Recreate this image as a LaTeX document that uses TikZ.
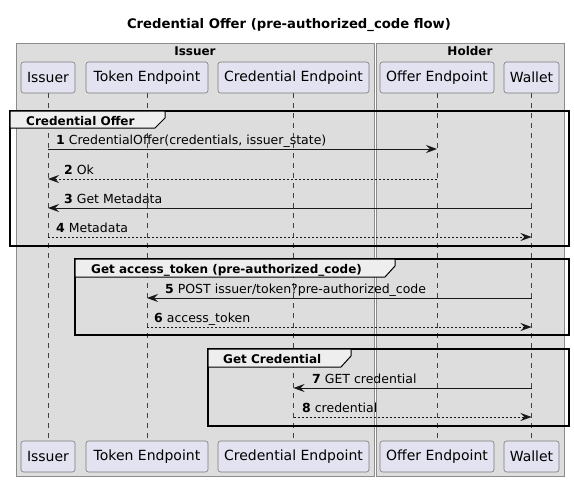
\documentclass[tikz,border=0pt]{standalone}
\usepackage{fontspec}
\setmainfont{DejaVu Sans}
\usetikzlibrary{arrows.meta}
\definecolor{boxgray}{HTML}{DDDDDD}
\definecolor{boxborder}{HTML}{8C8C8C}
\definecolor{partfill}{HTML}{E2E2F0}
\definecolor{partborder}{HTML}{7A7A7A}
\definecolor{tabfill}{HTML}{EEEEEE}
\begin{document}
\begin{tikzpicture}[x=1pt,y=-1pt,
  part/.style={draw=partborder, line width=0.6pt, fill=partfill, rounded corners=2.5pt,
    minimum height=31pt, inner sep=0pt, font=\fontsize{14}{16}\selectfont},
  lifeline/.style={draw=black!75, line width=0.5pt, dash pattern=on 5pt off 5pt},
  msg/.style={draw=black!90, line width=0.8pt, -{Stealth[length=11pt,width=8pt,inset=4pt]}},
  reply/.style={msg, dash pattern=on 2pt off 2pt},
  mlabel/.style={anchor=base west, inner sep=0pt, font=\fontsize{12.5}{15}\selectfont},
  glabel/.style={anchor=base west, inner sep=0pt, font=\fontsize{12}{14}\selectfont\bfseries},
  grp/.style={draw=black, line width=1.5pt},
  tab/.style={draw=black, line width=1pt, fill=tabfill},
  hbox/.style={draw=boxborder, line width=0.8pt, fill=boxgray},
  hlabel/.style={anchor=base, inner sep=0pt, font=\fontsize{12}{14}\selectfont\bfseries}
]
\useasboundingbox (0,0) rectangle (574,482);
\fill[white] (0,0) rectangle (574,482);

% title
\node[anchor=base, inner sep=0pt, font=\fontsize{13.2}{16}\selectfont\bfseries] (title) at (289,28)
  {Credential Offer (pre-authorized\_code flow)};

% boxes
\draw[hbox] (16,43) rectangle (374,476);
\draw[hbox] (376,43) rectangle (564,476);
\node[hlabel] (hiss) at (195,55) {Issuer};
\node[hlabel] (hhol) at (470,55) {Holder};

% participants top
\node[part, minimum width=54pt]  (iss1) at (48,77.5) {Issuer};
\node[part, minimum width=122pt] (tok1) at (147,77.5) {Token Endpoint};
\node[part, minimum width=151pt] (cre1) at (293.5,77.5) {Credential Endpoint};
\node[part, minimum width=114pt] (off1) at (437,77.5) {Offer Endpoint};
\node[part, minimum width=55pt]  (wal1) at (531.5,77.5) {Wallet};
% participants bottom
\node[part, minimum width=54pt]  (iss2) at (48,456.5) {Issuer};
\node[part, minimum width=122pt] (tok2) at (147,456.5) {Token Endpoint};
\node[part, minimum width=151pt] (cre2) at (293.5,456.5) {Credential Endpoint};
\node[part, minimum width=114pt] (off2) at (437,456.5) {Offer Endpoint};
\node[part, minimum width=55pt]  (wal2) at (531.5,456.5) {Wallet};

% lifelines
\draw[lifeline] (iss1.south) -- (iss2.north);
\draw[lifeline] (tok1.south) -- (tok2.north);
\draw[lifeline] (cre1.south) -- (cre2.north);
\draw[lifeline] (off1.south) -- (off2.north);
\draw[lifeline] (wal1.south) -- (wal2.north);

% group 1
\draw[grp] (10,111) rectangle (569,246);
\draw[tab] (10,111) -- (165,111) -- (165,118) -- (155,128) -- (10,128) -- cycle;
\node[glabel] (g1) at (26,125) {Credential Offer};

% group 2
\draw[grp] (75,259) rectangle (569,335);
\draw[tab] (75,259) -- (395,259) -- (395,266) -- (385,277) -- (75,277) -- cycle;
\node[glabel] (g2) at (91,273) {Get access\_token (pre-authorized\_code)};

% group 3
\draw[grp] (208,349) rectangle (569,426);
\draw[tab] (208,349) -- (351,349) -- (351,356) -- (341,367) -- (208,367) -- cycle;
\node[glabel] (g3) at (223,363) {Get Credential};

% message anchor coordinates
\coordinate (m1a) at (48,149);  \coordinate (m1b) at (437,149);
\coordinate (m2a) at (437,179); \coordinate (m2b) at (48,179);
\coordinate (m3a) at (531.5,208); \coordinate (m3b) at (48,208);
\coordinate (m4a) at (48,237);  \coordinate (m4b) at (531.5,237);
\coordinate (m5a) at (531.5,298); \coordinate (m5b) at (147,298);
\coordinate (m6a) at (147,327); \coordinate (m6b) at (531.5,327);
\coordinate (m7a) at (531.5,388); \coordinate (m7b) at (293.5,388);
\coordinate (m8a) at (293.5,417); \coordinate (m8b) at (531.5,417);

\draw[msg]   (m1a) -- (m1b);
\draw[reply] (m2a) -- (m2b);
\draw[msg]   (m3a) -- (m3b);
\draw[reply] (m4a) -- (m4b);
\draw[msg]   (m5a) -- (m5b);
\draw[reply] (m6a) -- (m6b);
\draw[msg]   (m7a) -- (m7b);
\draw[reply] (m8a) -- (m8b);

\node[mlabel] (l1) at (56,144) {\textbf{1} CredentialOffer(credentials, issuer\_state)};
\node[mlabel] (l2) at (64,174) {\textbf{2} Ok};
\node[mlabel] (l3) at (64,203) {\textbf{3} Get Metadata};
\node[mlabel] (l4) at (56,232) {\textbf{4} Metadata};
\node[mlabel] (l5) at (165,293) {\textbf{5} POST issuer/token?pre-authorized\_code};
\node[mlabel] (l6) at (154,322) {\textbf{6} access\_token};
\node[mlabel] (l7) at (312,383) {\textbf{7} GET credential};
\node[mlabel] (l8) at (302,412) {\textbf{8} credential};
\end{tikzpicture}
\end{document}
